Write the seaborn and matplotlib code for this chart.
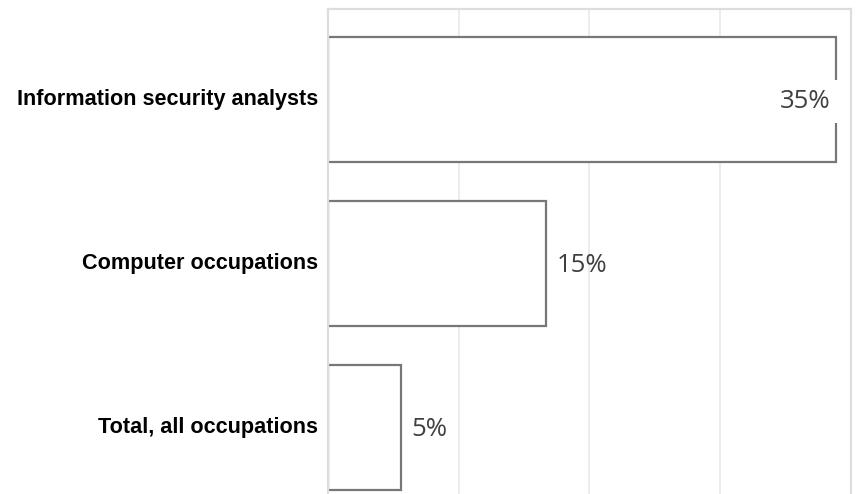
import matplotlib
matplotlib.use("Agg")
import matplotlib.pyplot as plt
import seaborn as sns

categories = ["Information security analysts", "Computer occupations", "Total, all occupations"]
growth_pct = [35, 15, 5]
labels = ["35%", "15%", "5%"]
grid_ticks = [9, 18, 27]

sns.set_theme(style="white")
plt.rcParams["font.family"] = ["Liberation Sans", "DejaVu Sans"]

fig = plt.figure(figsize=(8.62, 4.94), dpi=100)
ax = fig.add_axes([328 / 862, -0.0445, 523 / 862, 0.9818 + 0.0445])

sns.barplot(
    x=growth_pct, y=categories, orient="h", ax=ax,
    color="white", saturation=1, edgecolor="#777777", linewidth=1.6, width=0.76,
)

ax.set_xlim(0, 36)
ax.set_ylim(2.54, -0.552)
ax.set_xticks(grid_ticks)
ax.set_xticklabels([])
ax.tick_params(axis="x", length=0)
ax.tick_params(axis="y", length=0, pad=7)
ax.set_xlabel("")
ax.set_ylabel("")
ax.grid(axis="x", color="#ebebeb", linewidth=1.3)
ax.set_axisbelow(True)
for s in ax.spines.values():
    s.set_color("#dddddd")
    s.set_linewidth(1.6)

for lbl in ax.get_yticklabels():
    lbl.set_fontweight("bold")
    lbl.set_fontsize(15.6)
    lbl.set_color("black")
    lbl.set_y(lbl.get_position()[1])
    lbl.set_verticalalignment("center")

for i, (v, t) in enumerate(zip(growth_pct, labels)):
    if v > 30:
        ax.annotate(t, xy=(v, i), xytext=(-4, -1.5), textcoords="offset points",
                    ha="right", va="center", fontsize=18.5, color="#404040",
                    family="Open Sans", zorder=5,
                    bbox=dict(boxstyle="square,pad=0.35", fc="white", ec="none"))
    else:
        ax.annotate(t, xy=(v, i), xytext=(8, -1.5), textcoords="offset points",
                    ha="left", va="center", fontsize=18.5, color="#404040",
                    family="Open Sans")

fig.savefig("out.png", dpi=100)
